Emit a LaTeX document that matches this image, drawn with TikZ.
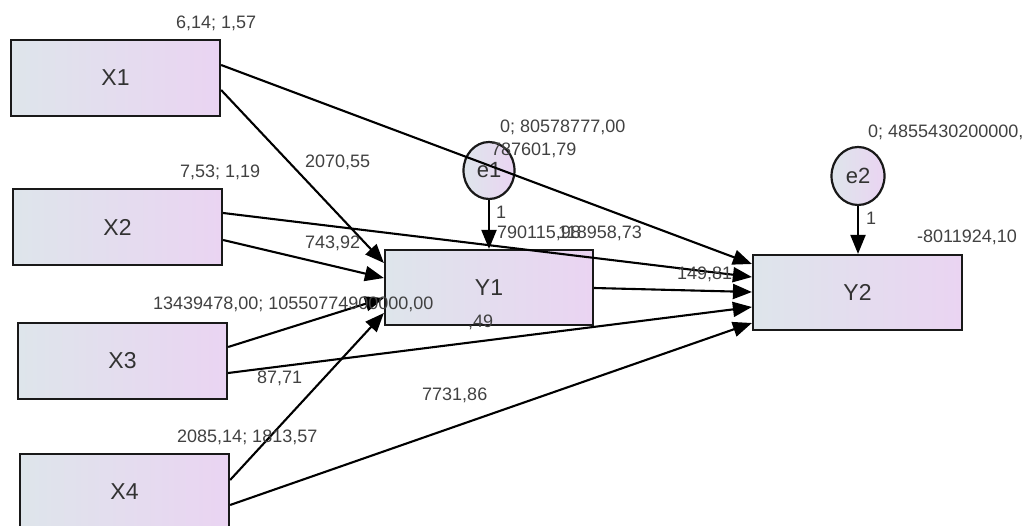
\documentclass[tikz,border=0pt]{standalone}
\usepackage{fontspec}
\setmainfont{Liberation Sans}
\usetikzlibrary{arrows.meta,shapes.geometric,calc}
\definecolor{boxleft}{RGB}{222,229,235}
\definecolor{boxright}{RGB}{234,212,242}
\definecolor{txt}{RGB}{50,50,50}
\definecolor{lbl}{RGB}{65,65,65}
\tikzset{
  varbox/.style={draw=black!90, line width=2.2pt, left color=boxleft, right color=boxright,
    shading angle=90, minimum width=209pt, minimum height=76pt, inner sep=0pt,
    font=\fontsize{23}{26}\selectfont, text=txt},
  errnode/.style={ellipse, draw=black!90, line width=2.2pt, left color=boxleft, right color=boxright,
    minimum width=51pt, minimum height=57pt, inner sep=0pt,
    font=\fontsize{22}{24}\selectfont, text=txt},
  path/.style={draw=black, line width=2.1pt, -{Triangle[length=19pt,width=15pt]}},
  lab/.style={anchor=west, inner sep=0pt, font=\fontsize{18}{20}\selectfont, text=lbl}
}
\begin{document}
\begin{tikzpicture}[x=1pt,y=-1pt]
\useasboundingbox (0,0) rectangle (1032,526);
\clip (0,0) rectangle (1032,526);
% nodes
\node[varbox] (X1) at (115.5,78) {X1};
\node[varbox] (X2) at (117.5,227) {X2};
\node[varbox] (X3) at (122.5,361) {X3};
\node[varbox] (X4) at (124.5,492) {X4};
\node[varbox, minimum width=208pt, minimum height=75pt] (Y1) at (489,287.5) {Y1};
\node[varbox, minimum height=75pt] (Y2) at (857.5,292.5) {Y2};
\node[errnode] (e1) at (489,170.5) {e1};
\node[errnode, minimum width=53pt, minimum height=58pt] (e2) at (858,176) {e2};
% connectors
\draw[path] ([yshift=13pt]X1.east) -- ([yshift=28.5pt]Y2.west);
\draw[path] ([yshift=-12pt]X1.east) -- ([yshift=24.5pt]Y1.west);
\draw[path] ([yshift=14pt]X2.east) -- ([yshift=15.5pt]Y2.west);
\draw[path] ([yshift=-13pt]X2.east) -- ([yshift=9.5pt]Y1.west);
\draw[path] ([yshift=14pt]X3.east) -- ([yshift=-10.5pt]Y1.west);
\draw[path] ([yshift=-12pt]X3.east) -- ([yshift=-14.5pt]Y2.west);
\draw[path] ([yshift=12pt]X4.east) -- ([yshift=-25.5pt]Y1.west);
\draw[path] ([yshift=-13pt]X4.east) -- ([yshift=-30.5pt]Y2.west);
\draw[path] ([yshift=-0.5pt]Y1.east) -- ([yshift=0.5pt]Y2.west);
\draw[path] (e1.south) -- (e1.south |- Y1.north);
\draw[path] (e2.south) -- (e2.south |- Y2.north);
% labels
\node[lab] (l1) at (176,23) {6,14; 1,57};
\node[lab] (l2) at (180,172) {7,53; 1,19};
\node[lab] (l3) at (305,162) {2070,55};
\node[lab] (l4) at (305,243) {743,92};
\node[lab] (l5) at (153,304) {13439478,00; 10550774900000,00};
\node[lab] (l6) at (257,378) {87,71};
\node[lab] (l7) at (468,322) {,49};
\node[lab] (l8) at (422,395) {7731,86};
\node[lab] (l9) at (177,437) {2085,14; 1813,57};
\node[lab] (l10) at (500,127) {0; 80578777,00};
\node[lab] (l11) at (491,150) {787601,79};
\node[lab] (l12) at (496,212) {1};
\node[lab] (l13) at (497,233) {790115,98};
\node[lab] (l14) at (558,233) {118958,73};
\node[lab] (l15) at (677,274) {149,81};
\node[lab] (l16) at (868,132) {0; 4855430200000,};
\node[lab] (l17) at (866,218) {1};
\node[lab] (l18) at (917,237) {-8011924,10};
\end{tikzpicture}
\end{document}
